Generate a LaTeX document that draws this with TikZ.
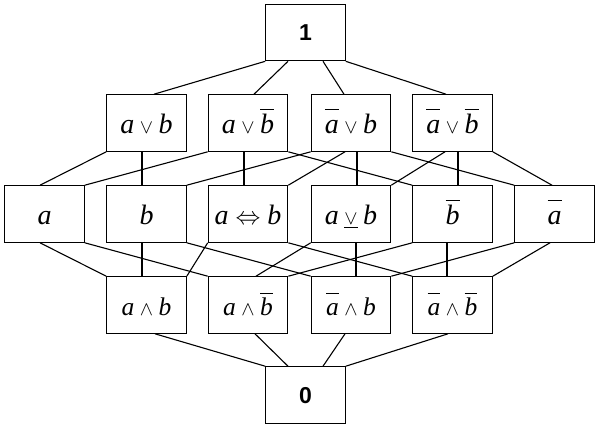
\documentclass[tikz,border=0pt]{standalone}
\usepackage{fontspec}
\usepackage{amssymb}
\usepackage{graphicx}
\setmainfont{Liberation Serif}
\newfontfamily\digitfont{Liberation Sans}
\usetikzlibrary{calc}
\newcommand{\ita}{\textit{a}}
\newcommand{\itb}{\textit{b}}
\newcommand{\nga}{\overline{\vphantom{\textit{b}}\textit{a}}}
\newcommand{\ngb}{\overline{\textit{b}}}
\newcommand{\svee}{\mathbin{\scalebox{0.8}{$\vee$}}}
\newcommand{\swedge}{\mathbin{\scalebox{0.8}{$\wedge$}}}
\newcommand{\sxor}{\mathbin{\underline{\hbox{\scalebox{0.8}{$\vee$}}}}}
\begin{document}
\begin{tikzpicture}[x=1pt,y=-1pt,
  bx/.style={draw, line width=1.1pt, minimum width=79.5pt, minimum height=56.5pt,
    inner sep=0pt, text height=20pt, text depth=0pt, font=\fontsize{28}{30}\selectfont},
  bxf/.style={bx, font=\fontsize{25.5}{28}\selectfont},
  bxd/.style={bx, text height=16pt, font=\fontsize{23}{25}\selectfont\digitfont\bfseries},
  ed/.style={line width=1.1pt}]
\useasboundingbox (0,0) rectangle (605,429);
% rows
\node[bxd] (one) at (305.5,32.5) {1};
\node[bx] (avb)   at (146.5,123) {$\ita\svee\itb$};
\node[bx] (avnb)  at (248,123)   {$\ita\svee\ngb$};
\node[bx] (navb)  at (351,123)   {$\nga\svee\itb$};
\node[bx] (navnb) at (452.5,123) {$\nga\svee\ngb$};
\node[bx] (a)   at (44.5,214)  {$\ita$};
\node[bx] (b)   at (146.5,214) {$\itb$};
\node[bx] (iff) at (248,214)   {$\ita\Leftrightarrow\itb$};
\node[bx] (xor) at (351,214)   {$\ita\sxor\itb$};
\node[bx] (nb)  at (452.5,214) {$\ngb$};
\node[bx] (na)  at (554.5,214) {$\nga$};
\node[bxf] (ab)   at (146.5,305) {$\ita\swedge\itb$};
\node[bxf] (anb)  at (248,305)   {$\ita\swedge\ngb$};
\node[bxf] (nab)  at (351,305)   {$\nga\swedge\itb$};
\node[bxf] (nanb) at (452.5,305) {$\nga\swedge\ngb$};
\node[bxd] (zero) at (305.5,395) {0};
% 1 -> row 2
\draw[ed] (one.south west) -- ([xshift=7.5pt]avb.north);
\draw[ed] ([xshift=-17.5pt]one.south) -- ([xshift=6pt]avnb.north);
\draw[ed] ([xshift=17.5pt]one.south) -- ([xshift=-7pt]navb.north);
\draw[ed] (one.south east) -- ([xshift=-6.5pt]navnb.north);
% row 2 -> row 3
\draw[ed] (avb.south west) -- ([xshift=-4.5pt]a.north);
\draw[ed] ([xshift=-4.5pt]avb.south) -- ([xshift=-4.5pt]b.north);
\draw[ed] (avnb.south west) -- (a.north east);
\draw[ed] ([xshift=-4pt]avnb.south) -- ([xshift=-4pt]iff.north);
\draw[ed] (avnb.south east) -- (nb.north west);
\draw[ed] (navb.south west) -- (b.north east);
\draw[ed] ([xshift=-6pt]navb.south) -- (iff.north east);
\draw[ed] ([xshift=6pt]navb.south) -- ([xshift=6pt]xor.north);
\draw[ed] (navb.south east) -- (na.north west);
\draw[ed] ([xshift=-7.5pt]navnb.south) -- (xor.north east);
\draw[ed] ([xshift=5.5pt]navnb.south) -- ([xshift=5.5pt]nb.north);
\draw[ed] (navnb.south east) -- ([xshift=-2.5pt]na.north);
% row 3 -> row 4
\draw[ed] ([xshift=-4.5pt]a.south) -- (ab.north west);
\draw[ed] (a.south east) -- (anb.north west);
\draw[ed] ([xshift=-4.5pt]b.south) -- ([xshift=-4.5pt]ab.north);
\draw[ed] (b.south east) -- (nab.north west);
\draw[ed] (iff.south west) -- (ab.north east);
\draw[ed] (iff.south east) -- (nanb.north west);
\draw[ed] (xor.south west) -- ([xshift=8pt]anb.north);
\draw[ed] ([xshift=5pt]xor.south) -- ([xshift=5pt]nab.north);
\draw[ed] (nb.south west) -- (anb.north east);
\draw[ed] ([xshift=-5.5pt]nb.south) -- ([xshift=-5.5pt]nanb.north);
\draw[ed] (na.south west) -- (nab.north east);
\draw[ed] ([xshift=-4.5pt]na.south) -- (nanb.north east);
% row 4 -> 0
\draw[ed] ([xshift=8.5pt]ab.south) -- (zero.north west);
\draw[ed] ([xshift=7pt]anb.south) -- ([xshift=-17.5pt]zero.north);
\draw[ed] ([xshift=-6pt]nab.south) -- ([xshift=17.5pt]zero.north);
\draw[ed] ([xshift=-4.5pt]nanb.south) -- (zero.north east);
\end{tikzpicture}
\end{document}
